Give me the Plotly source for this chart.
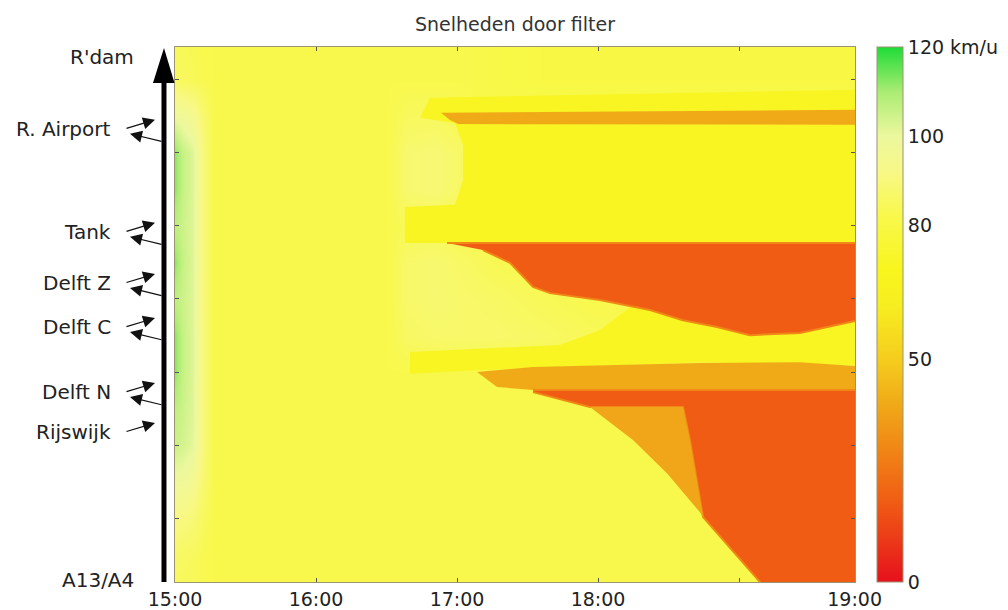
import plotly.graph_objects as go
from plotly.colors import sample_colorscale

# ---------------- data ----------------
# speed colour scale (km/u)
SPEED_STOPS = [0, 10, 18, 30, 40, 50, 62, 70, 82, 92, 100, 110, 120]
STOP_COLORS = ['rgb(230,16,28)', 'rgb(236,60,24)', 'rgb(240,92,20)', 'rgb(240,135,22)',
               'rgb(240,170,24)', 'rgb(245,205,30)', 'rgb(247,238,32)', 'rgb(248,245,30)',
               'rgb(248,248,76)', 'rgb(248,248,135)', 'rgb(236,248,158)', 'rgb(170,236,115)',
               'rgb(30,220,55)']
CBAR_TICKS = [0, 50, 80, 100, 120]
CBAR_TEXT = ['0', '50', '80', '100', '120 km/u']

# background speed field: time (hours) x road position (km)
TIME_H = [14.97, 15.05, 15.13, 15.2, 15.28, 15.5, 16.0, 16.5, 16.65, 16.85, 17.05, 17.3, 17.6, 18.0, 18.5, 19.0, 19.5, 19.85]
ROAD_KM = [0, 1, 2, 3, 4, 5, 6, 7, 8, 9, 10, 11, 12, 13, 14, 15]
SPEED = [
    [85, 84, 84, 83, 82, 82, 82, 82, 82, 82, 82, 82, 82, 82, 82, 82, 82, 82],
    [87, 86, 85, 83, 82, 82, 82, 82, 82, 82, 82, 82, 82, 82, 82, 82, 82, 82],
    [92, 91, 89, 85, 82, 82, 82, 82, 82, 82, 82, 82, 82, 82, 82, 82, 82, 82],
    [99, 98, 95, 88, 82, 82, 82, 82, 82, 82, 82, 82, 82, 82, 82, 82, 82, 82],
    [106, 104, 101, 90, 82, 82, 82, 82, 82, 82, 82, 82, 82, 82, 82, 82, 82, 82],
    [108, 105, 102, 90, 82, 82, 82, 82, 82, 82, 82, 82, 82, 82, 82, 82, 82, 82],
    [116, 106, 102, 90, 82, 82, 82, 82, 82, 82, 82, 82, 82, 82, 82, 82, 82, 82],
    [116, 106, 102, 90, 82, 82, 82, 82, 86, 87, 87, 87, 86, 84, 82, 82, 82, 82],
    [108, 105, 102, 90, 82, 82, 82, 82, 87, 88, 87, 86, 84, 82, 82, 82, 82, 82],
    [116, 106, 102, 90, 82, 82, 82, 82, 87, 88, 86, 83, 82, 82, 82, 82, 82, 82],
    [108, 105, 102, 90, 82, 82, 82, 82, 84, 84, 82, 82, 82, 82, 82, 82, 82, 82],
    [116, 106, 102, 90, 82, 82, 82, 82, 88, 89, 86, 82, 82, 82, 82, 82, 82, 82],
    [116, 106, 102, 90, 82, 82, 82, 82, 88, 89, 86, 82, 82, 82, 82, 82, 82, 82],
    [100, 98, 95, 88, 82, 82, 82, 82, 85, 85, 83, 82, 82, 82, 82, 82, 82, 82],
    [86, 85, 84, 83, 82, 82, 82, 82, 82, 82, 82, 81, 80, 80, 80, 80, 80, 80],
    [84, 84, 83, 82, 82, 82, 82, 82, 82, 82, 82, 81, 80, 80, 80, 80, 80, 80],
]

# congestion / speed regions (boundaries): time (h), km, speed
UPPER_FAST_T = [16.809, 19.85, 19.85, 16.631, 16.631, 16.986, 17.043, 17.043, 16.986, 16.738]
UPPER_FAST_KM = [13.51, 13.73, 9.53, 9.53, 10.52, 10.58, 11.26, 12.22, 12.82, 12.96]
UPPER_FAST_SPEED = 71

LOWER_FAST_T = [16.667, 17.730, 18.014, 18.298, 19.85, 19.85, 18.723, 17.142, 16.667]
LOWER_FAST_KM = [6.55, 6.74, 7.15, 7.97, 7.97, 6.19, 6.27, 6.05, 5.95]
LOWER_FAST_SPEED = 71

BAND1_T = [16.887, 19.85, 19.85, 17.007, 16.950]
BAND1_KM = [13.10, 13.18, 12.77, 12.79, 12.90]
BAND1_SPEED = 40

JAM1_T = [16.929, 19.85, 19.85, 19.624, 19.433, 19.078, 18.844, 18.603, 18.369, 18.014, 17.660, 17.539, 17.376, 17.184]
JAM1_KM = [9.53, 9.53, 7.42, 7.23, 7.07, 7.01, 7.23, 7.42, 7.70, 7.97, 8.16, 8.33, 8.99, 9.34]
JAM1_SPEED = 18

BAND2_T = [17.142, 17.539, 18.723, 19.433, 19.85, 19.85, 17.539, 17.284]
BAND2_KM = [6.00, 6.14, 6.25, 6.27, 6.16, 5.51, 5.51, 5.59]
BAND2_SPEED = 40

JAM2_T = [17.539, 19.85, 19.85, 19.262, 18.745, 18.702, 18.652, 18.603, 17.943, 17.539]
JAM2_KM = [5.51, 5.51, -0.25, -0.25, 2.03, 3.04, 4.14, 5.04, 5.04, 5.45]
JAM2_SPEED = 18

WEDGE_T = [17.943, 18.603, 18.652, 18.702, 18.745, 18.723, 18.489, 18.248]
WEDGE_KM = [5.04, 5.04, 4.14, 3.04, 2.03, 2.16, 3.23, 4.14]
WEDGE_SPEED = 39

# locations along the road
LOCATIONS = ['A13/A4', 'Rijswijk', 'Delft N', 'Delft C', 'Delft Z', 'Tank', 'R. Airport', "R'dam"]
LOCATION_KM = [0.30, 4.36, 5.45, 7.23, 8.44, 9.84, 12.66, 14.63]
HAS_ON_RAMP = [False, True, True, True, True, True, True, False]
HAS_OFF_RAMP = [False, False, True, True, True, True, True, False]

# time axis labels
TICK_HOURS = [15, 16, 17, 18, 19, 19.82]
TICK_TEXT = ['15:00', '16:00', '17:00', '18:00', '', '19:00']

# ---------------- figure ----------------
ZMAX = 120
COLORSCALE = [[s / ZMAX, c] for s, c in zip(SPEED_STOPS, STOP_COLORS)]


def speed_color(v):
    return sample_colorscale(COLORSCALE, [v / ZMAX])[0]


FONT = 'DejaVu Sans'
TXT = '#222222'
FRAME = '#9a9474'

fig = go.Figure()
fig.add_trace(go.Heatmap(
    x=TIME_H, y=ROAD_KM, z=SPEED, zmin=0, zmax=ZMAX, zsmooth='best',
    colorscale=COLORSCALE, hoverinfo='skip',
    colorbar=dict(x=1.0324, xanchor='left', xpad=0, y=0.5, yanchor='middle',
                  len=1.0, lenmode='fraction', thickness=26, ypad=0,
                  outlinecolor=FRAME, outlinewidth=1,
                  tickvals=CBAR_TICKS, ticktext=CBAR_TEXT, ticks='',
                  tickfont=dict(family=FONT, size=19, color=TXT)),
))

regions = [
    (UPPER_FAST_T, UPPER_FAST_KM, UPPER_FAST_SPEED, 0, None),
    (LOWER_FAST_T, LOWER_FAST_KM, LOWER_FAST_SPEED, 0, None),
    (BAND1_T, BAND1_KM, BAND1_SPEED, 0, None),
    (JAM1_T, JAM1_KM, JAM1_SPEED, 2, 30),
    (BAND2_T, BAND2_KM, BAND2_SPEED, 0, None),
    (JAM2_T, JAM2_KM, JAM2_SPEED, 2, 30),
    (WEDGE_T, WEDGE_KM, WEDGE_SPEED, 0, None),
]
for xs, ys, sp, lw, edge in regions:
    col = speed_color(sp)
    fig.add_trace(go.Scatter(
        x=xs, y=ys, mode='lines', fill='toself', fillcolor=col,
        line=dict(width=lw, color=speed_color(edge) if edge is not None else col),
        hoverinfo='skip', showlegend=False))

annotations = []
for name, km, on_r, off_r in zip(LOCATIONS, LOCATION_KM, HAS_ON_RAMP, HAS_OFF_RAMP):
    ramp = on_r or off_r
    annotations.append(dict(
        x=-0.0912 if ramp else -0.0574, xref='paper', xanchor='right',
        y=km, yref='y', yanchor='middle', text=name, showarrow=False,
        font=dict(family=FONT, size=20, color=TXT)))
    if on_r:
        annotations.append(dict(
            x=-0.0294, xref='paper', y=km, yref='y', yshift=9, text='',
            showarrow=True, ax=-30, ay=9, arrowhead=2, arrowsize=2.0, arrowwidth=1.2,
            arrowcolor='#111111', standoff=0, startstandoff=0))
    if off_r:
        annotations.append(dict(
            x=-0.0662, xref='paper', y=km, yref='y', yshift=-5, text='',
            showarrow=True, ax=33, ay=8, arrowhead=2, arrowsize=2.0, arrowwidth=1.2,
            arrowcolor='#111111', standoff=0, startstandoff=0))

shapes = [
    dict(type='line', xref='paper', yref='paper', x0=-0.0162, x1=-0.0162, y0=0, y1=0.94,
         line=dict(color='black', width=5)),
    dict(type='path', xref='paper', yref='paper',
         path='M -0.0162,0.998 L -0.0324,0.9327 L -0.0007,0.9327 Z',
         fillcolor='black', line=dict(width=0)),
]

# the page body adds an 8 px offset, so the figure is 8 px smaller on each side
fig.update_layout(
    width=1000, height=602,
    margin=dict(l=167, r=153, t=39, b=28, autoexpand=False),
    paper_bgcolor='white', plot_bgcolor='white',
    title=dict(text='Snelheden door filter', x=0.5, xref='paper', xanchor='center',
               y=0.973, yref='container', yanchor='middle',
               font=dict(family=FONT, size=19, color='#333333')),
    xaxis=dict(range=[15, 15 + 680 / 141], tickvals=TICK_HOURS, ticktext=TICK_TEXT,
               ticks='inside', ticklen=4, tickcolor='#555555', showgrid=False, zeroline=False,
               showline=True, linecolor=FRAME, linewidth=1, mirror='ticks', automargin=False,
               tickfont=dict(family=FONT, size=19, color=TXT)),
    yaxis=dict(range=[0.25, 14.9], dtick=2, tick0=0, showticklabels=False, automargin=False,
               ticks='inside', ticklen=4, tickcolor='#555555', showgrid=False, zeroline=False,
               showline=True, linecolor=FRAME, linewidth=1, mirror='ticks'),
    annotations=annotations, shapes=shapes, showlegend=False,
)

fig.write_html('out.html')
